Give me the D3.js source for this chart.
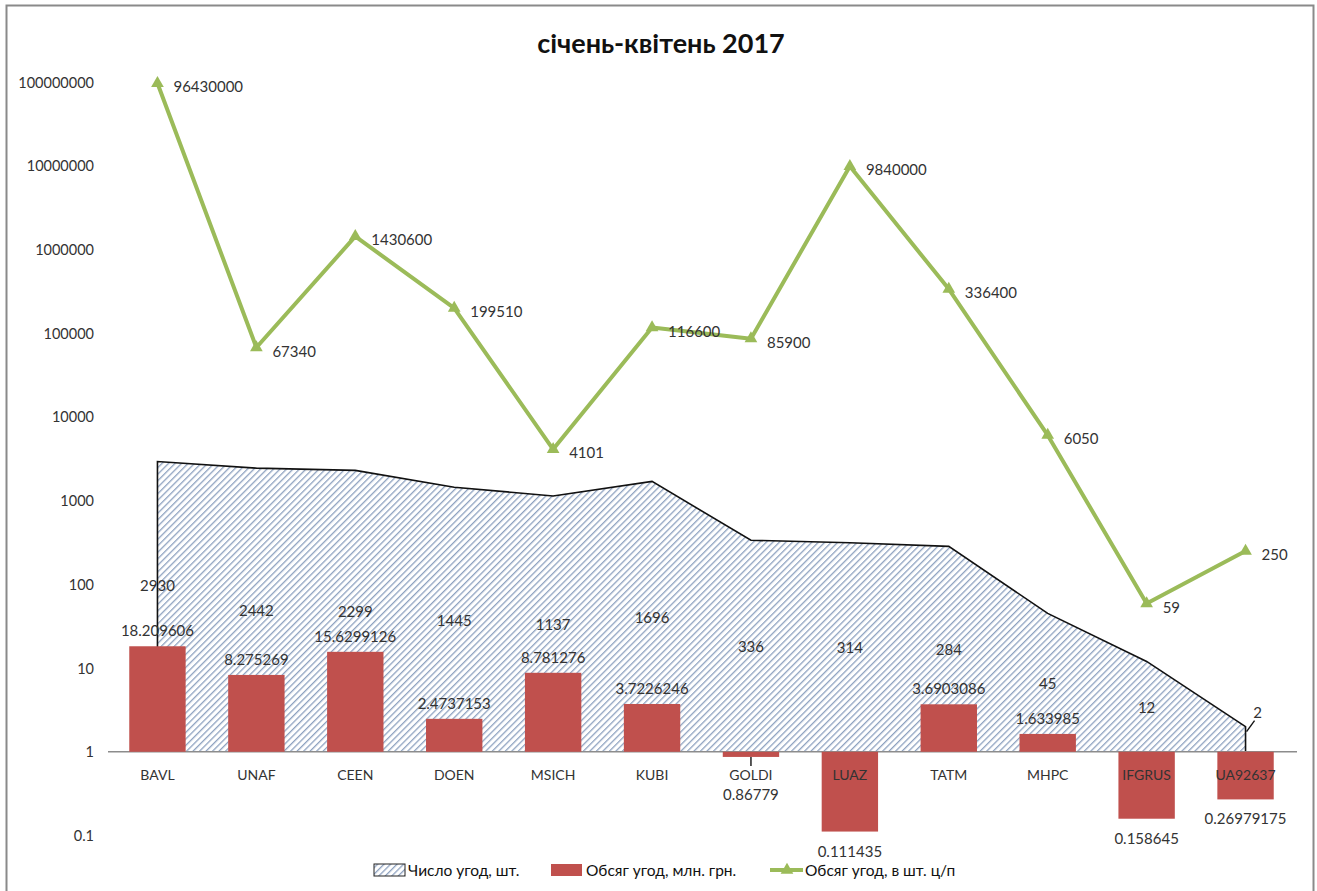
<!DOCTYPE html>
<html>
<head>
<meta charset="utf-8">
<script src="https://cdn.jsdelivr.net/npm/d3@7"></script>
<style>
  body { margin: 0; background: #fff; }
  text { font-family: Lato, "Open Sans", sans-serif; }
</style>
</head>
<body>
<script>
  var categories = ["BAVL", "UNAF", "CEEN", "DOEN", "MSICH", "KUBI", "GOLDI", "LUAZ", "TATM", "MHPC", "IFGRUS", "UA92637"];
  // Число угод, шт.
  var dealCount = [2930, 2442, 2299, 1445, 1137, 1696, 336, 314, 284, 45, 12, 2];
  // Обсяг угод, млн. грн.
  var volumeUah = [18.209606, 8.275269, 15.6299126, 2.4737153, 8.781276, 3.7226246, 0.86779, 0.111435, 3.6903086, 1.633985, 0.158645, 0.26979175];
  // Обсяг угод, в шт. ц/п
  var volumePieces = [96430000, 67340, 1430600, 199510, 4101, 116600, 85900, 9840000, 336400, 6050, 59, 250];
  var yTicks = [0.1, 1, 10, 100, 1000, 10000, 100000, 1000000, 10000000, 100000000];
  var seriesNames = ["Число угод, шт.", "Обсяг угод, млн. грн.", "Обсяг угод, в шт. ц/п"];

  var width = 1317, height = 891;
  var barColour = "#c0504d";
  var lineColour = "#9bbb59";
  var textColour = "#333";

  var svg = d3.select("body").append("svg")
    .attr("width", width)
    .attr("height", height);

  var defs = svg.append("defs");
  var hatch = defs.append("pattern")
    .attr("id", "hatch")
    .attr("patternUnits", "userSpaceOnUse")
    .attr("width", 4.6)
    .attr("height", 4.6)
    .attr("patternTransform", "rotate(45)");
  hatch.append("rect").attr("width", 4.6).attr("height", 4.6).attr("fill", "#fff");
  hatch.append("line")
    .attr("x1", 0).attr("y1", 0).attr("x2", 0).attr("y2", 4.6)
    .attr("stroke", "#8ea2c0").attr("stroke-width", 2.6);

  // outer frame
  svg.append("rect")
    .attr("x", 6.5).attr("y", 5.5)
    .attr("width", 1307).attr("height", 892)
    .attr("fill", "none")
    .attr("stroke", "#8a8a8a")
    .attr("stroke-width", 2);

  svg.append("text")
    .attr("x", 661).attr("y", 42)
    .attr("text-anchor", "middle")
    .attr("dominant-baseline", "central")
    .attr("font-size", 27)
    .attr("font-weight", "bold")
    .attr("fill", "#111")
    .text("січень-квітень 2017");

  var x = d3.scaleBand().domain(categories).range([108, 1295]);
  var cx = function(c){ return x(c) + x.bandwidth()/2; };
  var y = d3.scaleLog().domain([0.1, 100000000]).range([835.5, 82]);
  var y1 = y(1);

  // y tick labels
  svg.append("g").selectAll("text").data(yTicks).enter()
    .append("text")
    .attr("x", 94)
    .attr("y", function(d){ return y(d); })
    .attr("text-anchor", "end")
    .attr("dominant-baseline", "central")
    .attr("font-size", 14.5)
    .attr("fill", textColour)
    .text(function(d){ return d3.format("")(d); });

  // area: number of deals
  var areaData = categories.map(function(c, i){ return {c: c, v: dealCount[i]}; });
  var area = d3.area()
    .x(function(d){ return cx(d.c); })
    .y0(y1)
    .y1(function(d){ return y(d.v); });
  svg.append("path")
    .attr("d", area(areaData))
    .attr("fill", "url(#hatch)");
  var outline = [{c: categories[0], v: 1}].concat(areaData, [{c: categories[categories.length-1], v: 1}]);
  svg.append("path")
    .attr("d", d3.line().x(function(d){ return cx(d.c); }).y(function(d){ return y(d.v); })(outline))
    .attr("fill", "none")
    .attr("stroke", "#111")
    .attr("stroke-width", 1.6);

  // axis line at 1
  svg.append("line")
    .attr("x1", 108).attr("x2", 1297)
    .attr("y1", y1).attr("y2", y1)
    .attr("stroke", "#8c8c8c")
    .attr("stroke-width", 1.5);

  // bars: volume, UAH mln (from 1)
  var barW = x.bandwidth() * 0.57;
  var barData = categories.map(function(c, i){ return {c: c, v: volumeUah[i]}; });
  svg.append("g").selectAll("rect").data(barData).enter()
    .append("rect")
    .attr("x", function(d){ return cx(d.c) - barW/2; })
    .attr("y", function(d){ return Math.min(y(d.v), y1); })
    .attr("width", barW)
    .attr("height", function(d){ return Math.abs(y(d.v) - y1); })
    .attr("fill", barColour);

  // category labels
  svg.append("g").selectAll("text").data(categories).enter()
    .append("text")
    .attr("x", function(d){ return cx(d); })
    .attr("y", 774)
    .attr("text-anchor", "middle")
    .attr("dominant-baseline", "central")
    .attr("font-size", 14)
    .attr("fill", textColour)
    .text(function(d){ return d; });

  // area labels (half height)
  svg.append("g").selectAll("text").data(areaData).enter()
    .append("text")
    .attr("x", function(d, i){ return cx(d.c) + (i === areaData.length-1 ? 12 : 0); })
    .attr("y", function(d, i){
      if (i === 0) return y1 - 167;
      if (i === areaData.length-1) return 712;
      return y1 - (y1 - y(d.v)) / 2;
    })
    .attr("text-anchor", "middle")
    .attr("dominant-baseline", "central")
    .attr("font-size", 15)
    .attr("fill", textColour)
    .text(function(d){ return d.v; });
  // leader for the last area label
  var last = categories[categories.length-1];
  svg.append("line")
    .attr("x1", cx(last) + 1).attr("y1", y(2) + 5)
    .attr("x2", cx(last) + 9).attr("y2", y(2) - 6)
    .attr("stroke", "#111").attr("stroke-width", 1.4);

  // bar labels
  svg.append("g").selectAll("text").data(barData).enter()
    .append("text")
    .attr("x", function(d){ return cx(d.c); })
    .attr("y", function(d){
      if (d.v >= 1) return y(d.v) - 16;
      if (d.c === "GOLDI") return 794;
      return y(d.v) + 19;
    })
    .attr("text-anchor", "middle")
    .attr("dominant-baseline", "central")
    .attr("font-size", 15)
    .attr("fill", textColour)
    .text(function(d){ return d.v; });
  svg.append("line")
    .attr("x1", cx("GOLDI")).attr("x2", cx("GOLDI"))
    .attr("y1", y(volumeUah[6])).attr("y2", 766)
    .attr("stroke", "#111").attr("stroke-width", 1.4);

  // line: volume, pieces
  var lineData = categories.map(function(c, i){ return {c: c, v: volumePieces[i]}; });
  svg.append("path")
    .attr("d", d3.line().x(function(d){ return cx(d.c); }).y(function(d){ return y(d.v); })(lineData))
    .attr("fill", "none")
    .attr("stroke", lineColour)
    .attr("stroke-width", 4)
    .attr("stroke-linejoin", "round");
  var tri = d3.symbol().type(d3.symbolTriangle).size(70);
  svg.append("g").selectAll("path").data(lineData).enter()
    .append("path")
    .attr("d", tri)
    .attr("transform", function(d){ return "translate(" + cx(d.c) + "," + y(d.v) + ")"; })
    .attr("fill", lineColour);
  svg.append("g").selectAll("text").data(lineData).enter()
    .append("text")
    .attr("x", function(d){ return cx(d.c) + 16; })
    .attr("y", function(d){ return y(d.v) + 3; })
    .attr("dominant-baseline", "central")
    .attr("font-size", 15)
    .attr("fill", textColour)
    .text(function(d){ return d.v; });

  // legend
  var legend = svg.append("g").attr("transform", "translate(0,870)");
  legend.append("rect")
    .attr("x", 374).attr("y", -6).attr("width", 31).attr("height", 12)
    .attr("fill", "url(#hatch)").attr("stroke", "#222").attr("stroke-width", 1);
  legend.append("rect")
    .attr("x", 551).attr("y", -6).attr("width", 31).attr("height", 12)
    .attr("fill", barColour);
  legend.append("line")
    .attr("x1", 770).attr("x2", 803).attr("y1", 0).attr("y2", 0)
    .attr("stroke", lineColour).attr("stroke-width", 4);
  legend.append("path")
    .attr("d", tri)
    .attr("transform", "translate(787,0)")
    .attr("fill", lineColour);
  legend.selectAll("text.lg").data(seriesNames).enter()
    .append("text")
    .attr("class", "lg")
    .attr("x", function(d, i){ return [408, 586, 805][i]; })
    .attr("y", 0)
    .attr("dominant-baseline", "central")
    .attr("font-size", 15.5)
    .attr("fill", "#111")
    .text(function(d){ return d; });
</script>
</body>
</html>
